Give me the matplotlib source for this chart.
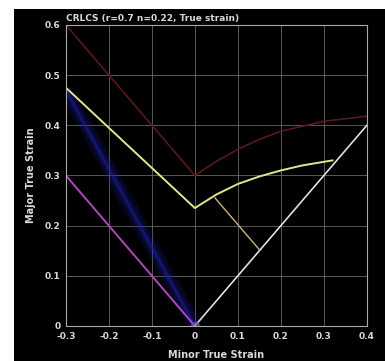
import matplotlib
matplotlib.use('Agg')
import matplotlib.pyplot as plt
from matplotlib.patches import Rectangle

# forming limit curve (yellow)
flc_x = [-0.3, 0.0, 0.05, 0.1, 0.15, 0.2, 0.25, 0.32]
flc_y = [0.475, 0.235, 0.262, 0.283, 0.298, 0.310, 0.320, 0.330]
# branch from the FLC down to plane strain path
branch_x = [0.047, 0.15]
branch_y = [0.255, 0.152]
# red curve
red_x = [-0.3, 0.0, 0.05, 0.1, 0.15, 0.2, 0.3, 0.4]
red_y = [0.6, 0.3, 0.328, 0.352, 0.372, 0.388, 0.408, 0.418]
# strain paths
white_x = [0.0, 0.4]
white_y = [0.0, 0.4]
blue_x = [-0.3, 0.0]
blue_y = [0.47, 0.0]
pink_x = [-0.3, 0.0]
pink_y = [0.3, 0.0]

xticks = [-0.3, -0.2, -0.1, 0, 0.1, 0.2, 0.3, 0.4]
xtick_labels = ['-0.3', '-0.2', '-0.1', '0', '0.1', '0.2', '0.3', '0.4']
yticks = [0, 0.1, 0.2, 0.3, 0.4, 0.5, 0.6]
ytick_labels = ['0', '0.1', '0.2', '0.3', '0.4', '0.5', '0.6']

fig = plt.figure(figsize=(3.85, 3.61), dpi=100, facecolor='black')
fig.patches.append(Rectangle((0, 0), 14 / 385, 1, transform=fig.transFigure,
                             facecolor='white', edgecolor='none', zorder=0))
fig.patches.append(Rectangle((0, 1 - 9 / 361), 1, 9 / 361, transform=fig.transFigure,
                             facecolor='white', edgecolor='none', zorder=0))

ax = fig.add_axes([0.171, 0.097, 0.782, 0.834], facecolor='black')
ax.set_xlim(-0.3, 0.4)
ax.set_ylim(0, 0.6)

ax.grid(True, color='#6e6e6e', linewidth=0.7, alpha=0.8)
for s in ax.spines.values():
    s.set_color('#aaaaaa')
    s.set_linewidth(0.8)

# blue band: several soft parallel strokes
for w, a in [(12, 0.10), (8, 0.15), (4, 0.25), (1.2, 0.5)]:
    ax.plot(blue_x, blue_y, color='#2020b0', linewidth=w, alpha=a, solid_capstyle='butt')
ax.plot(pink_x, pink_y, color='#b048b8', linewidth=1.4)
ax.plot(red_x, red_y, color='#561a1a', linewidth=1.2)
ax.plot(white_x, white_y, color='#e0e0e0', linewidth=1.2)
ax.plot(flc_x, flc_y, color='#e0e68c', linewidth=1.4)
ax.plot(branch_x, branch_y, color='#cbb47a', linewidth=1.0)
ax.plot([0.0], [0.0], 'o', color='#7050a0', markersize=6, alpha=0.6)

ax.set_xticks(xticks)
ax.set_xticklabels(xtick_labels)
ax.set_yticks(yticks)
ax.set_yticklabels(ytick_labels)
ax.tick_params(colors='#d8d8d8', labelsize=6.5, length=0, pad=4)
for lab in ax.get_xticklabels() + ax.get_yticklabels():
    lab.set_fontweight('bold')

ax.set_xlabel('Minor True Strain', color='#d8d8d8', fontsize=7, fontweight='bold', labelpad=7)
ax.set_ylabel('Major True Strain', color='#d8d8d8', fontsize=7, fontweight='bold', labelpad=6)
ax.text(0.0, 1.005, 'CRLCS (r=0.7 n=0.22, True strain)', transform=ax.transAxes,
        color='#d8d8d8', fontsize=6.5, fontweight='bold', va='bottom', ha='left')

fig.savefig('out.png', dpi=100, facecolor=fig.get_facecolor())
